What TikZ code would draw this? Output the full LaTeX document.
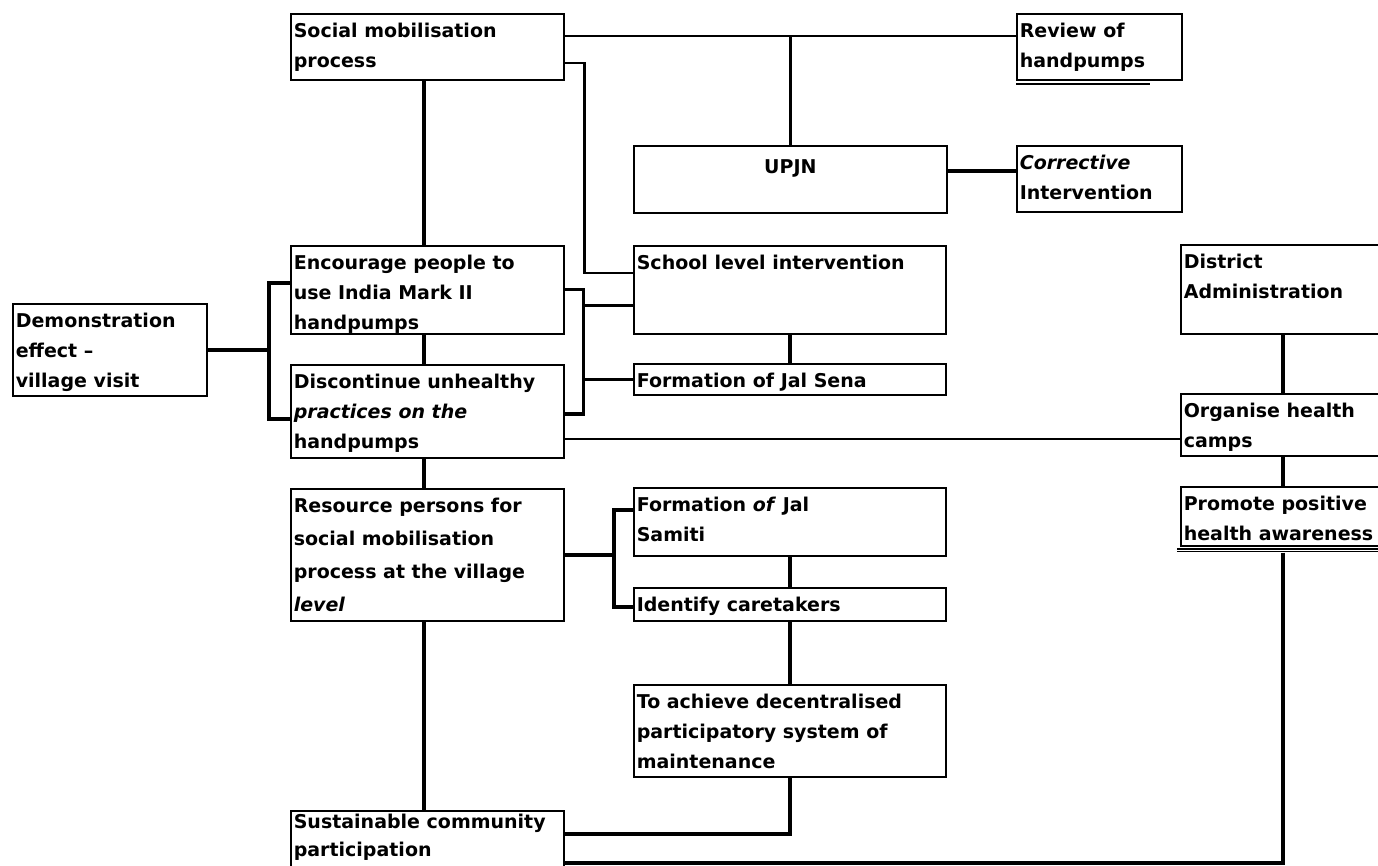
\documentclass[tikz,border=0pt]{standalone}
\usepackage{fontspec}
\setmainfont{DejaVu Sans}
\tikzset{
  box/.style={draw, line width=1.6pt, rectangle, inner sep=0pt, inner xsep=3pt,
    anchor=north west, font=\fontsize{19}{30}\selectfont\bfseries},
  lite/.style={line width=2.3pt},
  heavy/.style={line width=4.2pt},
  mid/.style={line width=3.4pt},
}
\newcommand\bx[6]{\node[box, minimum width=#4pt, minimum height=#5pt] (#1) at (#2,#3)
  {\parbox[c][#5pt][t]{\dimexpr#4pt-6pt\relax}{\raggedright\rule{0pt}{23.5pt}#6}};}
\begin{document}
\begin{tikzpicture}[x=1pt,y=-1pt]
\useasboundingbox (0,0) rectangle (1378,866);
\clip (0,0) rectangle (1378,866);
% boxes
\bx{soc}{290}{13}{273}{66}{Social mobilisation\\process}
\bx{rev}{1016}{13}{165}{66}{Review of\\handpumps}
\node[box, minimum width=313pt, minimum height=67pt] (upjn) at (633,145)
  {\parbox[c][67pt][t]{307pt}{\centering\rule{0pt}{28pt}UPJN}};
\bx{cor}{1016}{145}{165}{66}{\textit{Corrective}\\Intervention}
\bx{demo}{12}{303}{194}{92}{Demonstration\\effect --\\village visit}
\bx{enc}{290}{245}{273}{88}{Encourage people to\\use India Mark II\\handpumps}
\bx{dis}{290}{364}{273}{93}{Discontinue unhealthy\\\textit{practices on the}\\handpumps}
\bx{sch}{633}{245}{312}{88}{School level intervention}
\bx{sena}{633}{363}{312}{31}{Formation of Jal Sena}
\bx{dist}{1180}{244}{204}{89}{District\\Administration}
\bx{org}{1180}{393}{204}{62}{Organise health\\camps}
\bx{prom}{1180}{486}{204}{59}{Promote positive\\health awareness}
\bx{res}{290}{488}{273}{132}{\fontsize{19}{33}\selectfont\rule{0pt}{2pt}Resource persons for\\social mobilisation\\process at the village\\\textit{level}}
\bx{sam}{633}{487}{312}{68}{Formation \textit{of} Jal\\Samiti}
\bx{care}{633}{587}{312}{33}{Identify caretakers}
\bx{ach}{633}{684}{312}{92}{To achieve decentralised\\participatory system of\\maintenance}
\node[box, minimum width=273pt, minimum height=70pt] (sus) at (290,810)
  {\parbox[c][70pt][t]{267pt}{\fontsize{19}{28}\selectfont\raggedright\rule{0pt}{18pt}Sustainable community\\participation}};
% underlines
\draw[line width=1.8pt] ([yshift=-3.5pt]rev.south west) -- ++(134,0);
\draw[line width=1.3pt] ([shift={(-3pt,-2.5pt)}]prom.south west) -- ([yshift=-2.5pt]prom.south east);
\draw[line width=1.3pt] ([shift={(-3pt,-5pt)}]prom.south west) -- ([yshift=-5pt]prom.south east);
% top connectors
\draw[lite] ([yshift=11pt]soc.east) -- ([yshift=11pt]rev.west);
\draw[line width=2.8pt] (upjn.north) -- ++(0,-110);
\draw[lite] ([yshift=-16pt]soc.east) -- ++(20,0) |- ([yshift=17pt]sch.west);
\draw[heavy] ([xshift=-3pt]soc.south) -- ([xshift=-3pt]enc.north);
\coordinate (u1) at ([yshift=8pt]upjn.east);
\draw[heavy] (u1) -- (u1 -| cor.west);
% left bracket
\draw[heavy] ([xshift=-3pt]enc.south) -- ([xshift=-3pt]dis.north);
\draw[heavy] (demo.east) -- ++(61,0) coordinate (db);
\coordinate (e1) at ([yshift=7pt]enc.west);
\coordinate (d1) at ([yshift=-8pt]dis.west);
\draw[heavy] (e1) -- (e1 -| db) -- (d1 -| db) -- (d1);
% right bracket
\coordinate (rb) at ([xshift=19pt]enc.east);
\coordinate (d2) at ([yshift=-2.5pt]dis.east);
\draw[mid] (enc.east) -- (rb) -- (rb |- d2) -- (d2);
\coordinate (s2) at ([yshift=-16pt]sch.west);
\draw[mid] (s2 -| rb) -- (s2);
\draw[mid] (sena.west -| rb) -- (sena.west);
\draw[heavy] (sch.south) -- (sena.north);
% health camps
\coordinate (d3) at ([yshift=-27.5pt]dis.east);
\draw[lite] (d3) -- (d3 -| org.west);
\draw[heavy] (dist.south) -- (org.north);
\draw[heavy] (org.south) -- (prom.north);
\coordinate (s3) at ([yshift=-17pt]sus.east);
\draw[mid] ([yshift=-6pt]prom.south) |- (s3);
% lower part
\draw[heavy] ([xshift=-3pt]dis.south) -- ([xshift=-3pt]res.north);
\coordinate (rb2) at ([xshift=49pt]res.east);
\coordinate (m1) at ([yshift=12pt]sam.west);
\coordinate (c1) at ([yshift=-2.5pt]care.west);
\draw[heavy] (res.east) -- (rb2);
\draw[heavy] (m1) -- (m1 -| rb2) -- (c1 -| rb2) -- (c1);
\draw[heavy] (sam.south) -- (care.north);
\draw[heavy] (care.south) -- (ach.north);
\coordinate (s4) at ([yshift=12pt]sus.east);
\draw[mid] (ach.south) |- (s4);
\draw[heavy] ([xshift=-3pt]res.south) -- ([xshift=-3pt]sus.north);
\end{tikzpicture}
\end{document}
